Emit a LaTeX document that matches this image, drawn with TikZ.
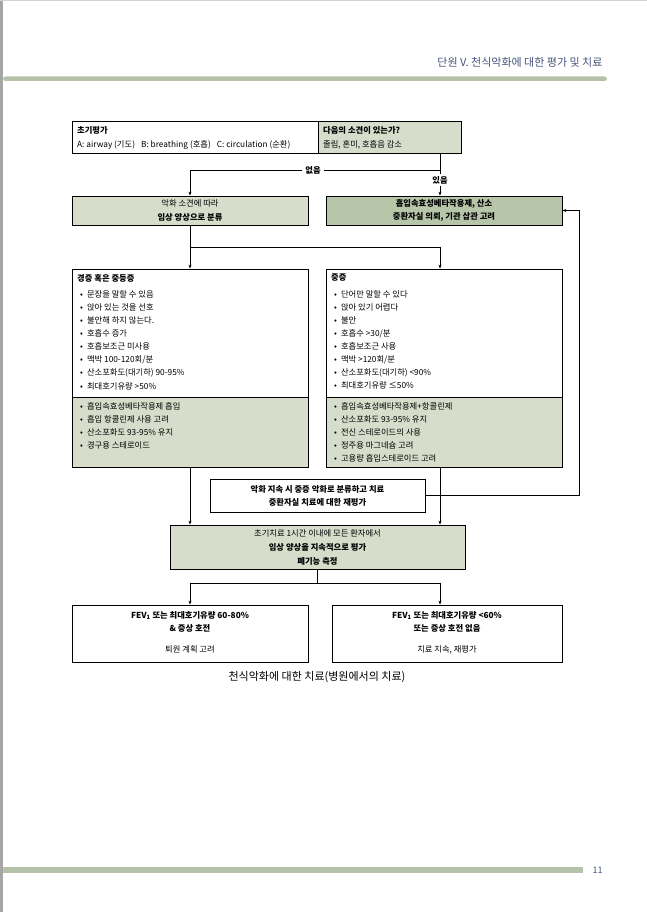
\documentclass[tikz,border=0pt]{standalone}
\usepackage{fontspec}
\setmainfont{Noto Sans CJK KR}
\usepackage{tikz}
\usetikzlibrary{arrows.meta}

\definecolor{boxgreen}{HTML}{D6DECB}
\definecolor{darkgreen}{HTML}{B7C6A9}
\definecolor{bandgreen}{HTML}{B4C2A9}
\definecolor{headblue}{HTML}{45557A}

\tikzset{
    box/.style={draw, line width=0.8pt, inner sep=0pt},
    txt/.style={font=\fontsize{8.3}{13.1}\selectfont, inner sep=0pt},
    arr/.style={line width=0.7pt, -{Stealth[length=4pt,width=3pt]}},
    link/.style={line width=0.7pt},
}
\newcommand{\bul}[1]{\hspace*{3pt}•\hspace{4pt}#1}

\begin{document}
\begin{tikzpicture}[x=1pt, y=-1pt]
        \useasboundingbox (0,0) rectangle (647,912);

        % Page frame, header and footer bands
        \fill[gray!70] (0,0) rectangle (3,912);
        \fill[gray!35] (0,0) rectangle (647,1.5);
        \fill[bandgreen, rounded corners=2.5pt] (3,76.5) rectangle (607,81);
        \fill[bandgreen] (3,867) rectangle (583,873);
        \node[anchor=east, text=headblue, font=\fontsize{11}{13}\selectfont] (head) at (606,62) {단원 V. 천식악화에 대한 평가 및 치료};
        \node[anchor=west, text=headblue, font=\fontsize{9}{11}\selectfont] (page) at (589,870) {11};

        % Draw the initial assessment box
        \node[box, minimum width=246pt, minimum height=32pt] (assess) at (195,137) {};
        \node[box, fill=boxgreen, minimum width=143pt, minimum height=32pt] (cond) at (389.5,137) {};
        \node[txt, anchor=west] (assesshd) at (77,130) {\textbf{초기평가}};
        \node[txt, anchor=west] (assessab) at (77,145) {A: airway (기도)\hspace{6pt}B: breathing (호흡)\hspace{6pt}C: circulation (순환)};
        \node[txt, anchor=west] (condhd) at (323,130) {\textbf{다음의 소견이 있는가?}};
        \node[txt, anchor=west] (condtx) at (323,145) {졸림, 혼미, 호흡음 감소};

        % Branch labels
        \node[txt, inner sep=3pt] (none) at (313,170) {\textbf{없음}};
        \node[txt, inner sep=2pt] (yes) at (440,180) {\textbf{있음}};

        % Draw the classification boxes
        \node[box, fill=boxgreen, minimum width=236pt, minimum height=29pt] (classify) at (190,210.5) {};
        \node[txt, align=center] (classifytx) at (classify) {악화 소견에 따라\\\textbf{임상 양상으로 분류}};
        \node[box, fill=darkgreen, minimum width=236pt, minimum height=29pt] (severe) at (444,210.5) {};
        \node[txt, align=center] (severetx) at (severe) {\textbf{흡입속효성베타작용제, 산소}\\\textbf{중환자실 의뢰, 기관 삽관 고려}};

        % Draw the mild / moderate box
        \node[box, minimum width=236pt, minimum height=128pt] (mildtop) at (190,333) {};
        \node[box, fill=boxgreen, minimum width=236pt, minimum height=70pt] (mildbot) at (190,432) {};
        \node[txt, anchor=north west, align=left] (mildtx) at (77,274) {\textbf{경증 혹은 중등증}\\[3pt]
            \bul{문장을 말할 수 있음}\\
            \bul{앉아 있는 것을 선호}\\
            \bul{불안해 하지 않는다.}\\
            \bul{호흡수 증가}\\
            \bul{호흡보조근 미사용}\\
            \bul{맥박 100-120회/분}\\
            \bul{산소포화도(대기하) 90-95\%}\\
            \bul{최대호기유량 >50\%}};
        \node[txt, anchor=north west, align=left] (mildrx) at (77,402) {\bul{흡입속효성베타작용제 흡입}\\
            \bul{흡입 항콜린제 사용 고려}\\
            \bul{산소포화도 93-95\% 유지}\\
            \bul{경구용 스테로이드}};

        % Draw the severe box
        \node[box, minimum width=236pt, minimum height=128pt] (sevtop) at (444,333) {};
        \node[box, fill=boxgreen, minimum width=236pt, minimum height=70pt] (sevbot) at (444,432) {};
        \node[txt, anchor=north west, align=left] (sevtx) at (331,274) {\textbf{중증}\\[3pt]
            \bul{단어만 말할 수 있다}\\
            \bul{앉아 있기 어렵다}\\
            \bul{불안}\\
            \bul{호흡수 >30/분}\\
            \bul{호흡보조근 사용}\\
            \bul{맥박 >120회/분}\\
            \bul{산소포화도(대기하) <90\%}\\
            \bul{최대호기유량 ≤50\%}};
        \node[txt, anchor=north west, align=left] (sevrx) at (331,402) {\bul{흡입속효성베타작용제+항콜린제}\\
            \bul{산소포화도 93-95\% 유지}\\
            \bul{전신 스테로이드의 사용}\\
            \bul{정주용 마그네슘 고려}\\
            \bul{고용량 흡입스테로이드 고려}};

        % Re-evaluation and continued treatment
        \node[box, fill=white, minimum width=215pt, minimum height=33pt] (reeval) at (317.5,495.5) {};
        \node[txt, align=center] (reevaltx) at (reeval) {\textbf{악화 지속 시 중증 악화로 분류하고 치료}\\\textbf{중환자실 치료에 대한 재평가}};
        \node[box, fill=boxgreen, minimum width=295pt, minimum height=44pt] (treat) at (317.5,547) {};
        \node[txt, align=center, font=\fontsize{8.3}{14}\selectfont] (treattx) at (treat) {초기치료 1시간 이내에 모든 환자에서\\\textbf{임상 양상을 지속적으로 평가}\\\textbf{폐기능 측정}};

        % Draw the outcome boxes
        \node[box, minimum width=236pt, minimum height=57pt] (good) at (190,633.5) {};
        \node[txt, anchor=north, align=center] (goodtx) at (190,611) {\textbf{FEV\textsubscript{1} 또는 최대호기유량 60-80\%}\\\textbf{\& 증상 호전}\\[8pt]퇴원 계획 고려};
        \node[box, minimum width=230pt, minimum height=57pt] (poor) at (447,633.5) {};
        \node[txt, anchor=north, align=center] (poortx) at (447,611) {\textbf{FEV\textsubscript{1} 또는 최대호기유량 <60\%}\\\textbf{또는 증상 호전 없음}\\[8pt]치료 지속, 재평가};

        \node[font=\fontsize{11}{13}\selectfont] (caption) at (317,677) {천식악화에 대한 치료(병원에서의 치료)};

        % Connectors
        \coordinate (split1) at (190,247);
        \coordinate (split2) at (317.5,583);
        \draw[link] (cond.south -| yes) -- (yes);
        \draw[arr] (yes) -- (yes |- severe.north);
        \draw[arr] (none -| yes) -- (none) -- (none -| classify) -- (classify.north);
        \draw[link] (classify.south) -- (split1) -- (split1 -| yes);
        \draw[arr] (split1) -- (mildtop.north);
        \draw[arr] (split1 -| yes) -- (yes |- sevtop.north);
        \draw[arr] (mildbot.south) -- (mildbot.south |- treat.north);
        \draw[arr] (yes |- sevbot.south) -- (yes |- treat.north);
        \draw[arr] (reeval.east) -| ([xshift=17pt]severe.east) -- (severe.east);
        \draw[link] (treat.south) -- (split2);
        \draw[link] (split2 -| good) -- (split2 -| yes);
        \draw[arr] (split2 -| good) -- (good.north);
        \draw[arr] (split2 -| yes) -- (yes |- poor.north);
\end{tikzpicture}
\end{document}
